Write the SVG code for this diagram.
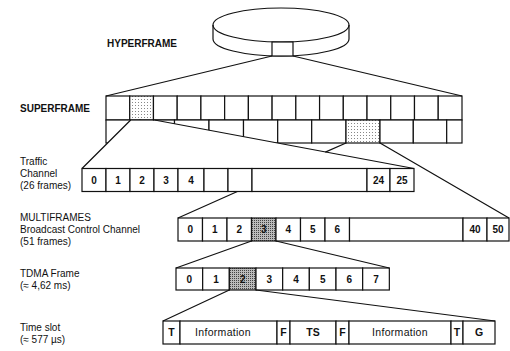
<svg xmlns="http://www.w3.org/2000/svg" width="510" height="351" viewBox="0 0 510 351">
<defs>
<style>
.c{fill:#fff;stroke:#111;stroke-width:1.2}
.ln{fill:none;stroke:#111;stroke-width:1.2}
.lbl{font-family:"Liberation Sans",Arial,sans-serif;font-size:10px;fill:#111}
.hd{font-family:"Liberation Sans",Arial,sans-serif;font-size:10px;font-weight:bold;fill:#111}
.n{font-family:"Liberation Sans",Arial,sans-serif;font-size:10px;font-weight:bold;fill:#111;text-anchor:middle}
.t{font-family:"Liberation Sans",Arial,sans-serif;font-size:10.5px;fill:#111;text-anchor:middle}
.sl{fill:url(#stipL);stroke:#111;stroke-width:1.2}
.sd{fill:url(#stipD);stroke:#111;stroke-width:1.2}
</style>
<pattern id="stipL" width="3" height="3" patternUnits="userSpaceOnUse"><rect width="3" height="3" fill="#fff"/><rect width="1" height="1" fill="#888"/></pattern>
<pattern id="stipD" width="2" height="2" patternUnits="userSpaceOnUse"><rect width="2" height="2" fill="#bbb"/><rect width="1" height="1" fill="#444"/></pattern>
<clipPath id="tri"><path clip-rule="evenodd" d="M0,0 H510 V351 H0 Z M130.7,120 L154.5,120 L414,168.5 L82,168.5 Z"/></clipPath>
</defs>
<rect width="510" height="351" fill="#fff"/>

<g id="hyperframe">
<text class="hd" x="107" y="47">HYPERFRAME</text>
<path class="ln" d="M213,25 V39 A68,17 0 0 0 349,39 V25"/>
<ellipse class="ln" cx="281" cy="25" rx="68" ry="17"/>
<rect class="c" x="272" y="42" width="21" height="14"/>
</g>

<g id="superframe">
<text class="hd" x="20" y="112">SUPERFRAME</text>
<g id="sf-row1">
<rect class="c" x="106" y="96" width="23.73" height="24"/>
<rect class="sl" x="129.73" y="96" width="23.73" height="24"/>
<rect class="c" x="153.46" y="96" width="23.73" height="24"/>
<rect class="c" x="177.19" y="96" width="23.73" height="24"/>
<rect class="c" x="200.92" y="96" width="23.73" height="24"/>
<rect class="c" x="224.65" y="96" width="23.73" height="24"/>
<rect class="c" x="248.38" y="96" width="23.73" height="24"/>
<rect class="c" x="272.11" y="96" width="23.73" height="24"/>
<rect class="c" x="295.84" y="96" width="23.73" height="24"/>
<rect class="c" x="319.57" y="96" width="23.73" height="24"/>
<rect class="c" x="343.3" y="96" width="23.73" height="24"/>
<rect class="c" x="367.03" y="96" width="23.73" height="24"/>
<rect class="c" x="390.76" y="96" width="23.73" height="24"/>
<rect class="c" x="414.49" y="96" width="23.73" height="24"/>
<rect class="c" x="438.22" y="96" width="23.78" height="24"/>
</g>
<g id="sf-row2" clip-path="url(#tri)">
<rect class="c" x="106" y="120" width="34" height="23"/>
<rect class="c" x="140" y="120" width="34.5" height="23"/>
<rect class="c" x="174.5" y="120" width="34.5" height="23"/>
<rect class="c" x="209" y="120" width="34.5" height="23"/>
<rect class="c" x="243.5" y="120" width="34.2" height="23"/>
<rect class="c" x="277.7" y="120" width="34" height="23"/>
<rect class="c" x="311.7" y="120" width="34.3" height="23"/>
<rect class="sl" x="346" y="120" width="34" height="23"/>
<rect class="c" x="380" y="120" width="33.3" height="23"/>
<rect class="c" x="413.3" y="120" width="33.4" height="23"/>
<rect class="c" x="446.7" y="120" width="15.3" height="23"/>
</g>
</g>

<g id="traffic-channel">
<text class="lbl" x="20" y="165">Traffic</text>
<text class="lbl" x="20" y="177">Channel</text>
<text class="lbl" x="20" y="189">(26 frames)</text>
<rect class="c" x="82" y="168.5" width="24" height="23"/>
<rect class="c" x="106" y="168.5" width="24" height="23"/>
<rect class="c" x="130" y="168.5" width="24" height="23"/>
<rect class="c" x="154" y="168.5" width="24" height="23"/>
<rect class="c" x="178" y="168.5" width="26" height="23"/>
<rect class="c" x="204" y="168.5" width="24" height="23"/>
<rect class="c" x="228" y="168.5" width="24" height="23"/>
<rect class="c" x="252" y="168.5" width="115" height="23"/>
<rect class="c" x="367" y="168.5" width="23" height="23"/>
<rect class="c" x="390" y="168.5" width="24" height="23"/>
<text class="n" x="94" y="183.5">0</text>
<text class="n" x="118" y="183.5">1</text>
<text class="n" x="142" y="183.5">2</text>
<text class="n" x="166" y="183.5">3</text>
<text class="n" x="191" y="183.5">4</text>
<text class="n" x="378.5" y="183.5">24</text>
<text class="n" x="402" y="183.5">25</text>
</g>

<g id="multiframe">
<text class="lbl" x="20" y="221">MULTIFRAMES</text>
<text class="lbl" x="20" y="233">Broadcast Control Channel</text>
<text class="lbl" x="20" y="245">(51 frames)</text>
<rect class="c" x="178" y="218" width="24.5" height="23"/>
<rect class="c" x="202.5" y="218" width="24.5" height="23"/>
<rect class="c" x="227" y="218" width="24.5" height="23"/>
<rect class="sd" x="251.5" y="218" width="24.5" height="23"/>
<rect class="c" x="276" y="218" width="24.5" height="23"/>
<rect class="c" x="300.5" y="218" width="24.5" height="23"/>
<rect class="c" x="325" y="218" width="24.5" height="23"/>
<rect class="c" x="349.5" y="218" width="113.5" height="23"/>
<rect class="c" x="463" y="218" width="24" height="23"/>
<rect class="c" x="487" y="218" width="22" height="23"/>
<text class="n" x="190.25" y="233">0</text>
<text class="n" x="214.75" y="233">1</text>
<text class="n" x="239.25" y="233">2</text>
<text class="n" x="263.75" y="233">3</text>
<text class="n" x="288.25" y="233">4</text>
<text class="n" x="312.75" y="233">5</text>
<text class="n" x="337.25" y="233">6</text>
<text class="n" x="475" y="233">40</text>
<text class="n" x="498" y="233">50</text>
</g>

<g id="tdma-frame">
<text class="lbl" x="20" y="277">TDMA Frame</text>
<text class="lbl" x="20" y="289">(≈ 4,62 ms)</text>
<rect class="c" x="176" y="268" width="26.67" height="22"/>
<rect class="c" x="202.67" y="268" width="26.67" height="22"/>
<rect class="sd" x="229.33" y="268" width="26.67" height="22"/>
<rect class="c" x="256" y="268" width="26.67" height="22"/>
<rect class="c" x="282.67" y="268" width="26.67" height="22"/>
<rect class="c" x="309.33" y="268" width="26.67" height="22"/>
<rect class="c" x="336" y="268" width="26.67" height="22"/>
<rect class="c" x="362.67" y="268" width="26.67" height="22"/>
<text class="n" x="189.3" y="282.5">0</text>
<text class="n" x="216" y="282.5">1</text>
<text class="n" x="242.7" y="282.5">2</text>
<text class="n" x="269.3" y="282.5">3</text>
<text class="n" x="296" y="282.5">4</text>
<text class="n" x="322.7" y="282.5">5</text>
<text class="n" x="349.3" y="282.5">6</text>
<text class="n" x="376" y="282.5">7</text>
</g>

<g id="time-slot">
<text class="lbl" x="20" y="331">Time slot</text>
<text class="lbl" x="20" y="343">(≈ 577 µs)</text>
<rect class="c" x="163" y="321" width="17" height="23"/>
<rect class="c" x="180" y="321" width="97" height="23"/>
<rect class="c" x="277" y="321" width="13" height="23"/>
<rect class="c" x="290" y="321" width="46" height="23"/>
<rect class="c" x="336" y="321" width="13" height="23"/>
<rect class="c" x="349" y="321" width="102" height="23"/>
<rect class="c" x="451" y="321" width="12" height="23"/>
<rect class="c" x="463" y="321" width="32" height="23"/>
<text class="t" x="171.5" y="336" font-weight="bold">T</text>
<text class="t" x="223" y="336" letter-spacing="0.3">Information</text>
<text class="t" x="283.5" y="336" font-weight="bold">F</text>
<text class="t" x="313" y="336" font-weight="bold">TS</text>
<text class="t" x="342.5" y="336" font-weight="bold">F</text>
<text class="t" x="400" y="336" letter-spacing="0.3">Information</text>
<text class="t" x="457" y="336" font-weight="bold">T</text>
<text class="t" x="479" y="336" font-weight="bold">G</text>
</g>

<g id="connectors">
<path class="ln" d="M272,56 L106,96 M293,56 L462,96"/>
<path class="ln" d="M130.7,120 L82,168.5 M154.5,120 L414,168.5"/>
<path class="ln" d="M346,143 L325.3,152.1 M237.4,191.5 L178,218 M380,143 L509,218"/>
<path class="ln" d="M251.5,241 L176,268 M276,241 L389.3,268"/>
<path class="ln" d="M229.33,290 L163,321 M256,290 L495,321"/>
</g>
</svg>
